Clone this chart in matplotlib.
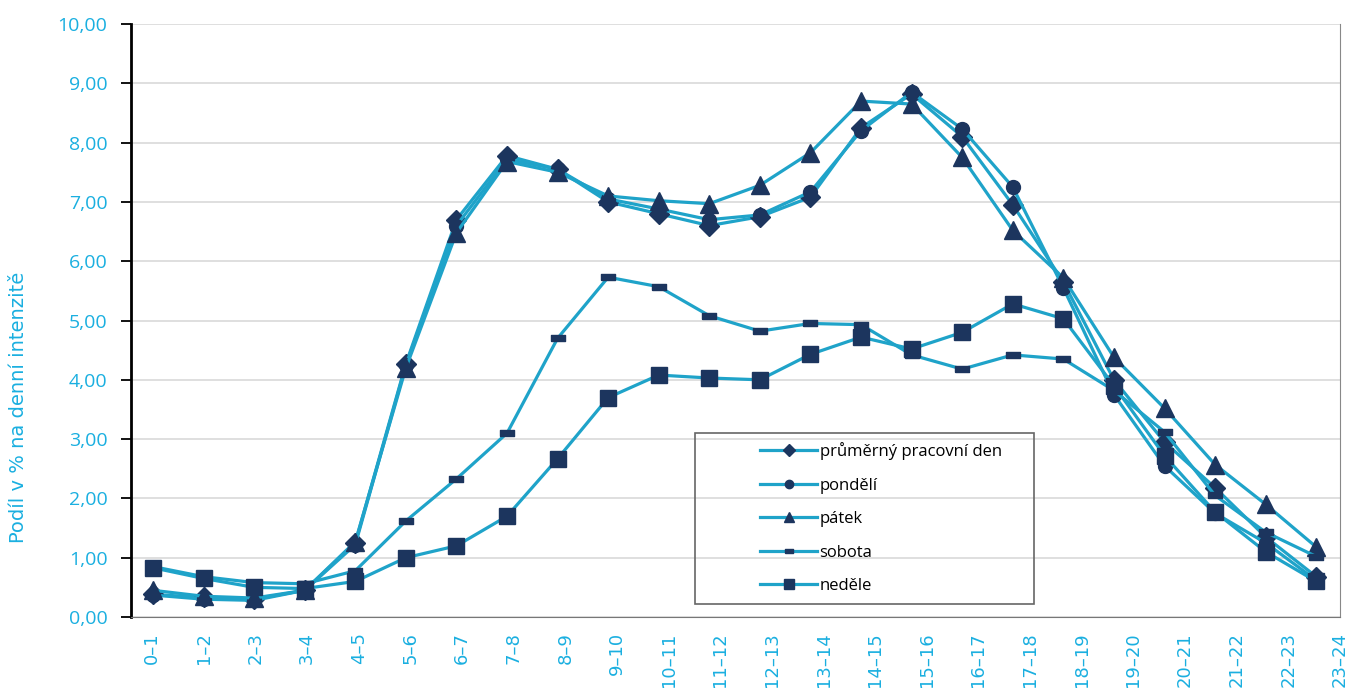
import numpy as np
import matplotlib
matplotlib.use("Agg")
import matplotlib.pyplot as plt
from matplotlib.patches import Rectangle
from matplotlib.ticker import FuncFormatter

hours = ["0–1", "1–2", "2–3", "3–4", "4–5", "5–6", "6–7", "7–8", "8–9", "9–10",
         "10–11", "11–12", "12–13", "13–14", "14–15", "15–16", "16–17", "17–18",
         "18–19", "19–20", "20–21", "21–22", "22–23", "23–24"]

prumer = [0.38, 0.33, 0.30, 0.45, 1.25, 4.27, 6.70, 7.78, 7.55, 7.00, 6.80, 6.60,
          6.75, 7.08, 8.25, 8.82, 8.10, 6.95, 5.65, 4.00, 2.95, 2.18, 1.35, 0.68]
pondeli = [0.37, 0.30, 0.28, 0.45, 1.22, 4.25, 6.60, 7.72, 7.55, 7.05, 6.88, 6.70,
           6.78, 7.17, 8.20, 8.85, 8.23, 7.25, 5.55, 3.75, 2.55, 1.75, 1.25, 0.62]
patek = [0.45, 0.35, 0.32, 0.45, 1.27, 4.20, 6.48, 7.68, 7.50, 7.10, 7.02, 6.97,
         7.28, 7.83, 8.70, 8.65, 7.75, 6.52, 5.72, 4.38, 3.52, 2.57, 1.90, 1.18]
sobota = [0.85, 0.68, 0.58, 0.56, 0.78, 1.62, 2.33, 3.10, 4.70, 5.73, 5.57, 5.08,
          4.82, 4.95, 4.93, 4.42, 4.18, 4.42, 4.35, 3.82, 3.12, 2.05, 1.43, 1.02]
nedele = [0.83, 0.65, 0.50, 0.48, 0.60, 1.00, 1.20, 1.70, 2.67, 3.70, 4.08, 4.03,
          4.00, 4.43, 4.72, 4.52, 4.80, 5.28, 5.03, 3.90, 2.72, 1.77, 1.10, 0.60]

line_c = '#1fa3c9'
mark_c = '#1c355e'
text_c = '#1aafe0'

dash = [(-1, -0.38), (1, -0.38), (1, 0.38), (-1, 0.38), (-1, -0.38)]

fig = plt.figure(figsize=(13.55, 6.97), dpi=100)
ax = fig.add_axes([131/1355, 1-617/697, (1340-131)/1355, (617-24)/697])

x = np.arange(len(hours))
series = [
    (prumer, 'průměrný pracovní den', 'D', 10),
    (pondeli, 'pondělí', 'o', 10),
    (patek, 'pátek', '^', 13),
    (sobota, 'sobota', dash, 10),
    (nedele, 'neděle', 's', 12),
]
handles = []
for vals, name, m, ms in series:
    h, = ax.plot(x, vals, color=line_c, lw=2.3, marker=m, markersize=ms,
                 markerfacecolor=mark_c, markeredgecolor=mark_c, label=name)
    handles.append(h)

ax.set_ylim(0, 10)
ax.set_xlim(-0.435, 23.47)
ax.set_yticks(np.arange(0, 11, 1))
ax.yaxis.set_major_formatter(FuncFormatter(lambda v, p: f"{v:.2f}".replace('.', ',')))
ax.grid(axis='y', color='#d9d9d9', lw=1.2)
ax.set_axisbelow(True)
ax.set_xticks([])
ax.tick_params(axis='y', colors='black', labelcolor=text_c, labelsize=14,
               length=7, width=1.3, pad=10)
for t in ax.get_yticklabels():
    t.set_family('Open Sans')
ax.spines['left'].set_color('black')
ax.spines['left'].set_linewidth(2)
ax.spines['top'].set_visible(False)
ax.spines['right'].set_color('#888888')
ax.spines['bottom'].set_color('#777777')
ax.set_ylabel('Podíl v % na denní intenzitě', color=text_c, fontsize=14)
ax.yaxis.set_label_coords(-103/1209, (617-407)/593)

# category labels sit on their own scale
ax2 = ax.twiny()
ax2.set_xlim(-0.41, 22.98)
ax2.xaxis.set_ticks_position('bottom')
ax2.set_xticks(x)
ax2.set_xticklabels(hours, rotation=90, color=text_c, fontsize=13)
ax2.tick_params(axis='x', length=0, pad=11)
for s in ax2.spines.values():
    s.set_visible(False)

ax.add_patch(Rectangle(((695-131)/1209, (617-604)/593), 339/1209, 171/593,
                       transform=ax.transAxes, fill=False, edgecolor='#666666',
                       lw=1.2, zorder=5))
leg = ax.legend(handles=handles, loc='upper left',
                bbox_to_anchor=((752-131)/1209, (617-434)/593),
                frameon=False, fontsize=12, handlelength=3.4, handletextpad=0.15,
                labelspacing=1.05, borderpad=0, markerscale=0.6)
for t in leg.get_texts():
    t.set_family('Open Sans')

plt.savefig('out.png', dpi=100)
